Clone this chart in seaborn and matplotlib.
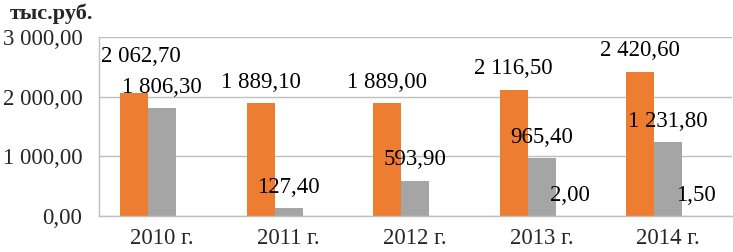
import numpy as np
import pandas as pd
import matplotlib
matplotlib.use('Agg')
import matplotlib.pyplot as plt
import seaborn as sns
from matplotlib.ticker import FuncFormatter, FixedLocator

# data
years = ['2010 г.', '2011 г.', '2012 г.', '2013 г.', '2014 г.']
series_a = [2062.7, 1889.1, 1889.0, 2116.5, 2420.6]
series_b = [1806.3, 127.4, 593.9, 965.4, 1231.8]
series_c = [np.nan, np.nan, np.nan, 2.0, 1.5]
series_names = ['a', 'b', 'c']
colors = ['#ED7D31', '#A5A5A5', '#FFC000']


def ru_fmt(v):
    s = f"{v:,.2f}"
    return s.replace(',', ' ').replace('.', ',')


df = pd.DataFrame({
    'year': years * 3,
    'value': series_a + series_b + series_c,
    'series': [n for n in series_names for _ in years],
})

sns.set_style('white')
plt.rcParams['font.family'] = ['Liberation Serif', 'DejaVu Serif']
fs = 16.5

fig = plt.figure(figsize=(7.33, 2.52), dpi=100)
ax = fig.add_axes([0.135, 0.143, 0.863, 0.71])

sns.barplot(data=df, x='year', y='value', hue='series', order=years,
            hue_order=series_names, palette=colors, width=0.663, gap=0,
            saturation=1, linewidth=0, ax=ax, legend=False)

ax.set_ylim(0, 3000)
ax.set_xlim(-0.5, 4.5)
ax.yaxis.set_major_locator(FixedLocator([0, 1000, 2000, 3000]))
ax.yaxis.set_major_formatter(FuncFormatter(lambda v, p: ru_fmt(v)))
ax.grid(axis='y', color='#BFBFBF', linewidth=1)
ax.set_axisbelow(True)

for side in ['top', 'right']:
    ax.spines[side].set_visible(False)
for side in ['left', 'bottom']:
    ax.spines[side].set_color('#BFBFBF')
    ax.spines[side].set_linewidth(1)

ax.tick_params(axis='y', length=0, pad=12, labelsize=fs)
ax.tick_params(axis='x', which='major', length=0, pad=9, labelsize=fs)
ax.set_xticks(np.arange(0.5, 4.6, 1), minor=True)
ax.tick_params(axis='x', which='minor', length=5, color='#BFBFBF', width=1)
ax.set_xlabel('')
ax.set_ylabel('')

# value labels
for k, cont in enumerate(ax.containers):
    for i, bar in enumerate(cont):
        h = bar.get_height()
        if np.isnan(h):
            continue
        cx = bar.get_x() + bar.get_width() / 2
        dy = 15
        dx = 0
        if k == 0 and i == 0:
            dy = 26
            dx = 5
        ax.annotate(ru_fmt(h), (cx, h), xytext=(dx, dy), textcoords='offset points',
                    ha='center', va='center', fontsize=fs, color='black',
                    annotation_clip=False)

fig.text(0.013, 0.945, 'тыс.руб.', fontsize=16, fontweight='bold',
         ha='left', va='center')

fig.savefig('out.png', dpi=100)
